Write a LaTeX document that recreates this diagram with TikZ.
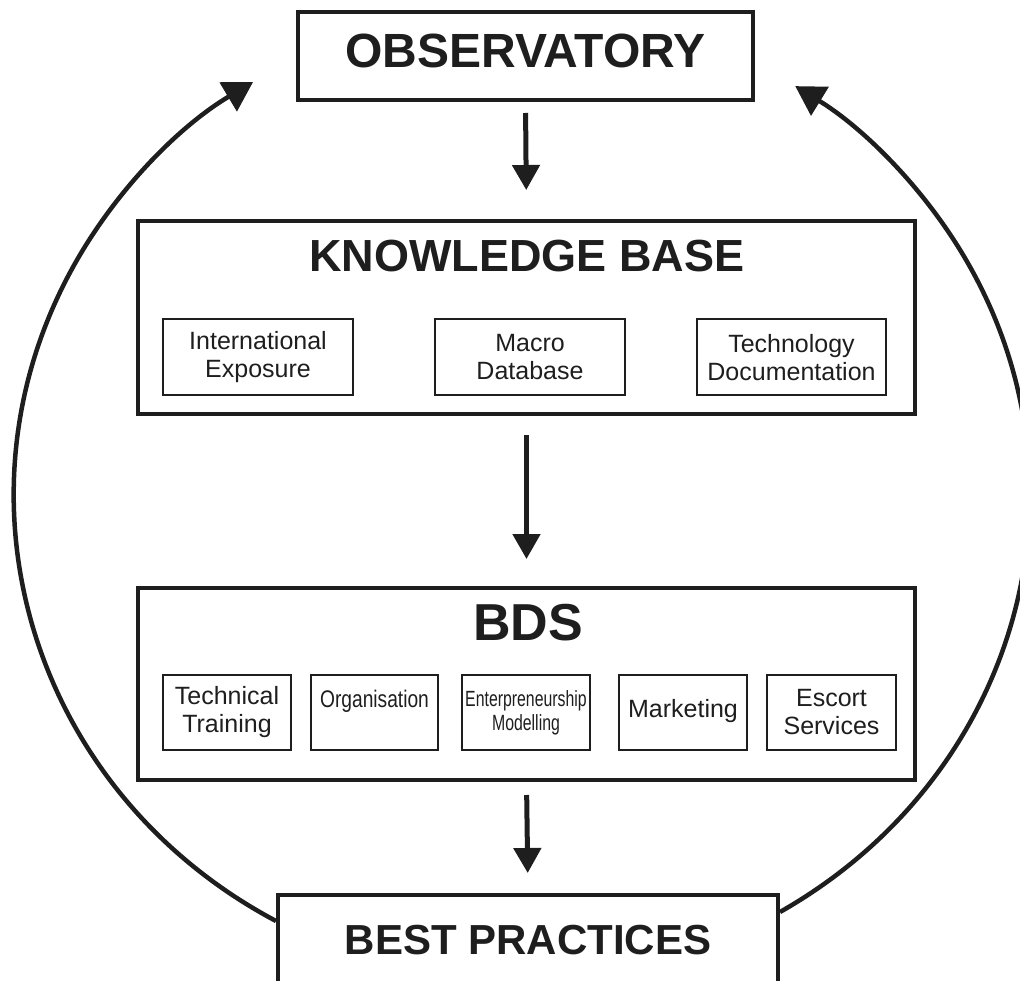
\documentclass[tikz,border=0pt]{standalone}
\usepackage{fontspec}
\setmainfont{Liberation Sans}
\usetikzlibrary{arrows.meta}
\definecolor{ink}{RGB}{30,30,30}

\begin{document}
\begin{tikzpicture}[x=1pt, y=-1pt, draw=ink, text=ink]
    \tikzstyle{bigbox}=[draw, line width=4pt, minimum width=777pt, minimum height=192pt]
    \tikzstyle{endbox}=[draw, line width=4pt, font=\bfseries\fontsize{48}{56}\selectfont]
    \tikzstyle{heading}=[font=\bfseries\fontsize{45}{54}\selectfont]
    \tikzstyle{subitem}=[draw, line width=2pt, align=center, inner sep=0pt, minimum height=76pt, font=\fontsize{25}{28}\selectfont]
    \tikzstyle{flow}=[-{Triangle[length=25pt,width=27pt]}, line width=5pt]
    \tikzstyle{return arc}=[-{Triangle[length=29pt,width=33pt]}, line width=4.5pt]

    \useasboundingbox (0,0) rectangle (1020,981);

    \node[endbox, minimum width=455pt, minimum height=88pt, text depth=10pt] (obs) at (525.5,56) {OBSERVATORY};

    \node[bigbox] (kb) at (526.5,317.5) {};
    \node[heading] (kb-title) at (527,256) {KNOWLEDGE BASE};
    \node[subitem, minimum width=190pt] (kb-1) at (258,357.5) {International\\Exposure};
    \node[subitem, minimum width=190pt] (kb-2) at (530,357.5) {Macro\\Database};
    \node[subitem, minimum width=189pt] (kb-3) at (791.5,357.5) {Technology\\Documentation};

    \node[bigbox] (bds) at (526.5,684) {};
    \node[heading, font=\bfseries\fontsize{52}{60}\selectfont] (bds-title) at (528,623) {BDS};
    \node[subitem, minimum width=128pt, minimum height=75pt] (bds-1) at (227,712.5) {Technical\\Training};
    \node[subitem, minimum width=127pt, minimum height=75pt,
          font={\fontsize{24}{28}\selectfont\addfontfeature{FakeStretch=0.8}}] (bds-2) at (374.5,712.5) {Organisation\\\mbox{}};
    \node[subitem, minimum width=128pt, minimum height=75pt,
          font={\fontsize{22}{24}\selectfont\addfontfeature{FakeStretch=0.72}}] (bds-3) at (526,712.5) {Enterpreneurship\\Modelling};
    \node[subitem, minimum width=128pt, minimum height=75pt, text depth=9pt] (bds-4) at (683,712.5) {Marketing};
    \node[subitem, minimum width=129pt, minimum height=75pt] (bds-5) at (831.5,712.5) {Escort\\Services};

    \node[endbox, minimum width=500pt, minimum height=90pt,
          font=\bfseries\fontsize{42}{50}\selectfont] (best) at (528,940) {BEST PRACTICES};

    % Arrows down the middle
    \foreach \src/\dst/\gapa/\gapb in {obs/kb/11/29.5, kb/bds/19.5/27, bds/best/13/20}
        \draw[flow, shorten <=\gapa pt, shorten >=\gapb pt] (\src.south) -- (\dst.north);

    % Feedback arcs back to the observatory
    \coordinate (left-foot) at ([yshift=19pt]best.west);
    \coordinate (right-foot) at ([yshift=28pt]best.east);
    \draw[return arc] (left-foot) arc[start angle=241, end angle=122, x radius=509pt, y radius=487pt];
    \draw[return arc] (right-foot) arc[start angle=-59, end angle=57, x radius=515pt, y radius=487pt];

\end{tikzpicture}
\end{document}
